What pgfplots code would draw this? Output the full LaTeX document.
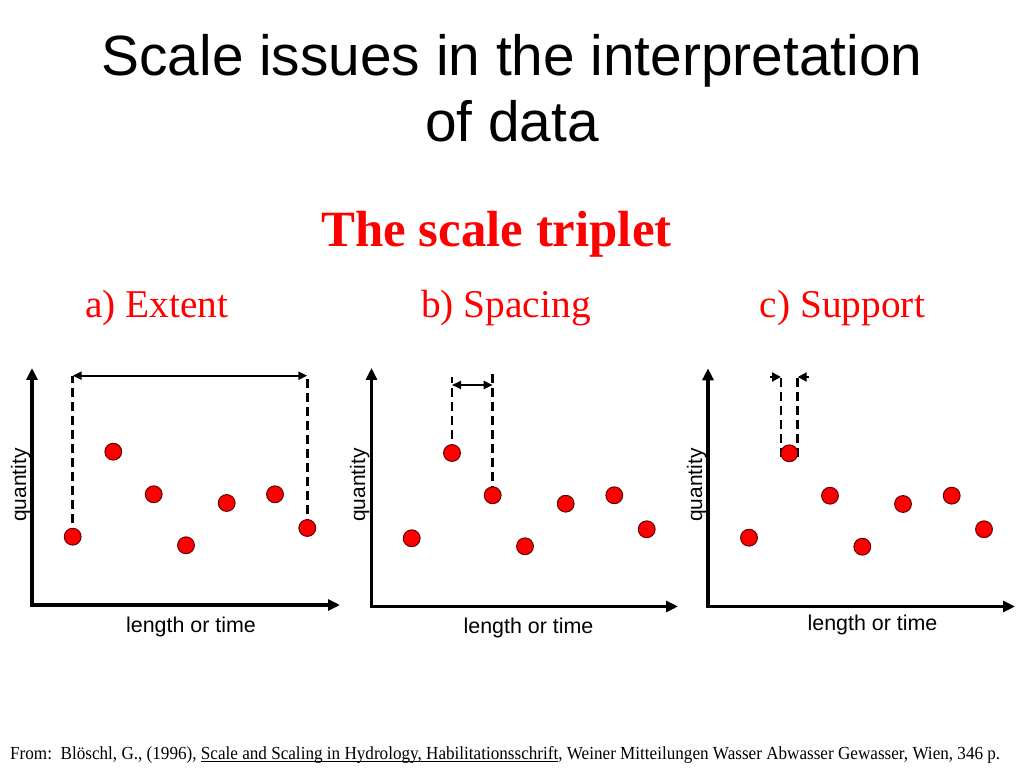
\documentclass[border=0pt]{standalone}
\usepackage{fontspec}
\setmainfont{Liberation Serif}
\newfontfamily\arial{Liberation Sans}
\usepackage{pgfplots}
\pgfplotsset{compat=1.18}
\usetikzlibrary{arrows.meta}
\newcommand\myul[1]{\setbox0\hbox{#1}\rlap{\rule[-2pt]{\wd0}{0.8pt}}\box0}
\pgfplotsset{
  panel/.style={
    x=1bp, y=1bp, scale only axis, clip=false,
    axis lines=left, xtick=\empty, ytick=\empty,
    axis line style={line width=3.4bp, line cap=rect, -{Triangle[length=12bp,width=11bp]}},
  },
  dots/.style={only marks, mark=*, mark size=8.4bp,
    mark options={fill=red, draw=black!60!red, line width=1bp}},
  dsh/.style={no marks, black, line width=2.6bp, dash pattern=on 9bp off 5bp},
  arr/.style={no marks, black, line width=2bp, {Triangle[length=9bp,width=8bp]}-{Triangle[length=9bp,width=8bp]}},
  arrR/.style={no marks, black, line width=2bp, -{Triangle[length=9bp,width=9bp]}},
}
\begin{document}
\begin{tikzpicture}[x=1bp,y=1bp]
\fill[white] (0,0) rectangle (1024,768);
\useasboundingbox (0,0) rectangle (1024,768);

% titles
\node[anchor=base, inner sep=0] at (512,692) {\arial\fontsize{57}{66}\selectfont Scale issues in the interpretation};
\node[anchor=base, inner sep=0] at (512,626) {\arial\fontsize{57}{66}\selectfont of data};
\node[anchor=base, inner sep=0, text=red] at (496.5,521) {\fontsize{51}{60}\selectfont\bfseries The scale triplet};
\node[anchor=base, inner sep=0, text=red] at (157,450) {\fontsize{39.5}{46}\selectfont a) Extent};
\node[anchor=base, inner sep=0, text=red] at (506,450) {\fontsize{39.5}{46}\selectfont b) Spacing};
\node[anchor=base, inner sep=0, text=red] at (842.5,450) {\fontsize{39.5}{46}\selectfont c) Support};

% panel a
\begin{axis}[panel, anchor=south west, at={(32,163)}, xmin=32, xmax=340, ymin=163, ymax=400]
\addplot[dsh] coordinates {(72.7,231.3) (72.7,392.3)};
\addplot[dsh] coordinates {(307.3,240) (307.3,392.3)};
\addplot[arr] coordinates {(72.7,392.3) (307.3,392.3)};
\addplot[dots] coordinates {(72.7,231.3) (113.3,316.3) (153.7,273.7) (186,222.7) (226.7,265) (275,273.7) (307.3,240)};
\end{axis}

% panel b
\begin{axis}[panel, anchor=south west, at={(371.5,161.5)}, xmin=371.5, xmax=678, ymin=161.5, ymax=400]
\addplot[dsh] coordinates {(452,315) (452,391.3)};
\addplot[dsh] coordinates {(492.7,272.7) (492.7,394)};
\addplot[arr] coordinates {(452,383) (492.7,383)};
\addplot[dots] coordinates {(411.7,229.7) (452,315) (492.7,272.7) (525,221.7) (565.7,264.3) (614.3,272.7) (646.7,238.7)};
\end{axis}

% panel c
\begin{axis}[panel, anchor=south west, at={(708,161.5)}, xmin=708, xmax=1015, ymin=161.5, ymax=399.7]
\addplot[dsh] coordinates {(781,311.3) (781,393)};
\addplot[dsh] coordinates {(797.7,311.3) (797.7,393)};
\addplot[arrR] coordinates {(770,391) (781,391)};
\addplot[arrR] coordinates {(809,391) (797.7,391)};
\addplot[dots] coordinates {(749,230.3) (789.3,314.7) (830,272.3) (862.3,221.3) (903,264) (951.7,272.3) (984,238.7)};
\end{axis}

% axis labels
\foreach \bx/\lx/\ly in {26/191/135, 365/528.5/134, 702/872.5/137}{
  \node[anchor=base, inner sep=0, rotate=90] at (\bx,283) {\arial\fontsize{21}{24}\selectfont quantity};
  \node[anchor=base, inner sep=0] at (\lx,\ly) {\arial\fontsize{21.5}{24}\selectfont length or time};
}

% footer
\node[anchor=base west, inner sep=0] at (10,8) {\resizebox{990bp}{\height}{\fontsize{18.5}{21}\selectfont From:\ \ Blöschl, G., (1996), \myul{Scale and Scaling in Hydrology, Habilitationsschrift}, Weiner Mitteilungen Wasser Abwasser Gewasser, Wien, 346 p.}};
\end{tikzpicture}
\end{document}
